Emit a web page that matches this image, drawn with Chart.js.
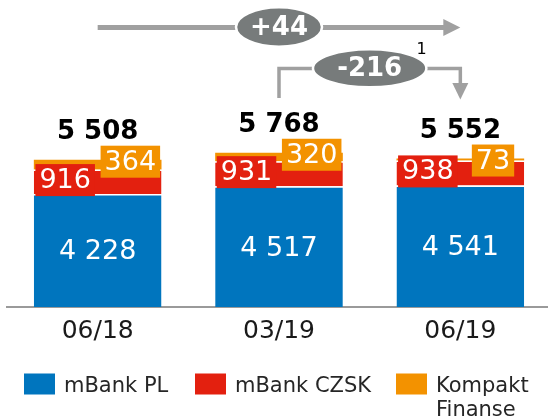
<!DOCTYPE html>
<html><head><meta charset="utf-8">
<script src="https://cdn.jsdelivr.net/npm/chart.js@4.4.1/dist/chart.umd.min.js"></script>
<style>
html,body{margin:0;padding:0;background:#fff;overflow:hidden}
#wrap{width:548px;height:417px;overflow:hidden;position:relative}
canvas{display:block}
</style></head><body>
<div id="wrap"><canvas id="c" width="552" height="417"></canvas></div>
<script>
const categories = ['06/18', '03/19', '06/19'];
const mBankPL = [4228, 4517, 4541];
const mBankCZSK = [916, 931, 938];
const kompaktFinanse = [364, 320, 73];
const seriesNames = ['mBank PL', 'mBank CZSK', 'Kompakt Finanse'];
const seriesColors = ['#0075be', '#e3200f', '#f39200'];
const footnote = '1';

const totals = categories.map((_, i) => mBankPL[i] + mBankCZSK[i] + kompaktFinanse[i]);
const fmt = n => String(Math.abs(n)).replace(/\B(?=(\d{3})+(?!\d))/g, ' ');
const fmtDelta = n => (n >= 0 ? '+' : '-') + fmt(n);
const FONT = "'DejaVu Sans', 'Verdana', sans-serif";
Chart.defaults.font.family = FONT;

function labelBox(ctx, text, cx, cy, color) {
  ctx.font = '27px ' + FONT;
  const w = ctx.measureText(text).width + 8, h = 32;
  ctx.fillStyle = color;
  ctx.fillRect(cx - w / 2, cy - h / 2, w, h);
  ctx.fillStyle = '#ffffff';
  ctx.textAlign = 'center';
  ctx.textBaseline = 'middle';
  ctx.fillText(text, cx, cy + 1);
}

const valuePlugin = {
  id: 'values',
  afterDatasetsDraw(chart) {
    const ctx = chart.ctx;
    const m0 = chart.getDatasetMeta(0), m1 = chart.getDatasetMeta(1), m2 = chart.getDatasetMeta(2);
    ctx.save();
    m0.data.forEach((el, i) => {
      ctx.font = '27px ' + FONT;
      ctx.fillStyle = '#ffffff';
      ctx.textAlign = 'center';
      ctx.textBaseline = 'middle';
      ctx.fillText(fmt(mBankPL[i]), el.x, (el.y + el.base) / 2 + 2);
    });
    m1.data.forEach((el, i) => {
      labelBox(ctx, fmt(mBankCZSK[i]), el.x - el.width * 0.2545, (el.y + el.base) / 2 - 1.6, seriesColors[1]);
    });
    m2.data.forEach((el, i) => {
      const cy = el.y + 2;
      labelBox(ctx, fmt(kompaktFinanse[i]), el.x + el.width * 0.256, cy, seriesColors[2]);
      ctx.font = 'bold 26px ' + FONT;
      ctx.fillStyle = '#000000';
      ctx.textAlign = 'center';
      ctx.textBaseline = 'middle';
      ctx.fillText(fmt(totals[i]), el.x, cy - 29.5);
    });
    ctx.restore();
  }
};

function pill(ctx, cx, cy, rx, ry, text) {
  ctx.beginPath();
  ctx.ellipse(cx, cy, rx, ry, 0, 0, Math.PI * 2);
  ctx.fillStyle = '#777b7b';
  ctx.fill();
  ctx.lineWidth = 2.5;
  ctx.strokeStyle = '#ffffff';
  ctx.stroke();
  ctx.font = 'bold 26px ' + FONT;
  ctx.fillStyle = '#ffffff';
  ctx.textAlign = 'center';
  ctx.textBaseline = 'middle';
  ctx.fillText(text, cx, cy + 1);
}

const arrowPlugin = {
  id: 'arrows',
  afterDraw(chart) {
    const ctx = chart.ctx;
    const xs = chart.scales.x;
    const x0 = xs.getPixelForValue(0), x1 = xs.getPixelForValue(1), x2 = xs.getPixelForValue(2);
    ctx.save();
    const ya = 27.5;
    ctx.strokeStyle = '#a0a0a0';
    ctx.fillStyle = '#a0a0a0';
    ctx.lineWidth = 5;
    ctx.beginPath(); ctx.moveTo(x0, ya); ctx.lineTo(x2 - 15, ya); ctx.stroke();
    ctx.beginPath(); ctx.moveTo(x2, ya); ctx.lineTo(x2 - 17, ya - 8.5); ctx.lineTo(x2 - 17, ya + 8.5); ctx.closePath(); ctx.fill();
    pill(ctx, x1, 27, 43, 19.7, fmtDelta(totals[2] - totals[0]));
    const yb = 68.5;
    ctx.strokeStyle = '#a0a0a0';
    ctx.fillStyle = '#a0a0a0';
    ctx.lineWidth = 3.5;
    ctx.beginPath(); ctx.moveTo(x1, 98); ctx.lineTo(x1, yb); ctx.lineTo(x2, yb); ctx.lineTo(x2, 85); ctx.stroke();
    ctx.beginPath(); ctx.moveTo(x2, 99.5); ctx.lineTo(x2 - 8, 83); ctx.lineTo(x2 + 8, 83); ctx.closePath(); ctx.fill();
    const cx = (x1 + x2) / 2, rx = 56.7, ry = 19;
    pill(ctx, cx, 68.3, rx, ry, fmtDelta(totals[2] - totals[1]));
    ctx.font = '16px ' + FONT;
    ctx.fillStyle = '#000000';
    ctx.textAlign = 'center';
    ctx.textBaseline = 'middle';
    ctx.fillText(footnote, cx + 52, 49.5);
    ctx.restore();
  }
};

const legendPlugin = {
  id: 'customLegend',
  afterDraw(chart) {
    const ctx = chart.ctx;
    const lx = [24, 195, 396];
    ctx.save();
    ctx.font = '21px ' + FONT;
    ctx.textAlign = 'left';
    ctx.textBaseline = 'alphabetic';
    chart.data.datasets.forEach((ds, i) => {
      ctx.fillStyle = ds.backgroundColor;
      ctx.fillRect(lx[i], 373.5, 31, 21);
      ctx.fillStyle = '#262626';
      const tx = lx[i] + 40, maxW = 548 - tx - 2;
      const words = ds.label.split(' ');
      const lines = [];
      let cur = '';
      words.forEach(w => {
        const t = cur ? cur + ' ' + w : w;
        if (cur && ctx.measureText(t).width > maxW) { lines.push(cur); cur = w; } else cur = t;
      });
      lines.push(cur);
      lines.forEach((ln, k) => ctx.fillText(ln, tx, 391.7 + k * 24.5));
    });
    ctx.restore();
  }
};

const bw = { top: 1.5, left: 0, right: 0, bottom: 0 };
new Chart(document.getElementById('c'), {
  type: 'bar',
  data: {
    labels: categories,
    datasets: [
      { label: seriesNames[0], data: mBankPL, backgroundColor: seriesColors[0], borderColor: '#ffffff', borderWidth: bw },
      { label: seriesNames[1], data: mBankCZSK, backgroundColor: seriesColors[1], borderColor: '#ffffff', borderWidth: bw },
      { label: seriesNames[2], data: kompaktFinanse, backgroundColor: seriesColors[2], borderWidth: 0 }
    ]
  },
  options: {
    responsive: false,
    animation: false,
    devicePixelRatio: 1,
    layout: { padding: { left: 7, right: 1, top: 0, bottom: 62 } },
    plugins: { legend: { display: false }, tooltip: { enabled: false } },
    datasets: { bar: { barPercentage: 0.704, categoryPercentage: 1 } },
    scales: {
      x: {
        stacked: true,
        grid: { display: false, drawTicks: false },
        border: { display: true, color: '#9a9a9a', width: 2 },
        ticks: { color: '#1a1a1a', font: { family: FONT, size: 25 }, padding: 9 }
      },
      y: { stacked: true, display: false, min: 0, max: 11480 }
    }
  },
  plugins: [valuePlugin, arrowPlugin, legendPlugin]
});
</script>
</body></html>
